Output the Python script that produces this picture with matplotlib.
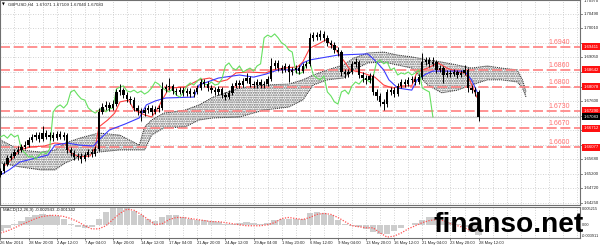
import matplotlib
matplotlib.use('Agg')
import matplotlib.pyplot as plt
import matplotlib.transforms as mtransforms
import matplotlib.font_manager as fm

# ---------------- data ----------------
first_open = 1.6516
closes = [1.6529,1.6552,1.6572,1.6579,1.6592,1.6599,1.6609,1.6615,1.6632,1.6642,
          1.6648,1.6635,1.6655,1.6642,1.6648,1.6638,1.6652,1.6642,1.6648,1.6599,
          1.6589,1.6576,1.6579,1.6569,1.6582,1.6592,1.6586,1.6602,1.6725,1.6741,
          1.6748,1.6738,1.6751,1.6791,1.6797,1.6781,1.6768,1.6764,1.6738,1.6728,
          1.6721,1.6731,1.6738,1.6725,1.6735,1.6738,1.6801,1.6807,1.6811,1.6794,
          1.6791,1.6797,1.6788,1.6794,1.6784,1.6791,1.6804,1.6824,1.6817,1.6804,
          1.6797,1.6791,1.6801,1.6781,1.6774,1.6788,1.6811,1.6821,1.6814,1.6827,
          1.6837,1.6817,1.6814,1.6824,1.6814,1.6817,1.6834,1.6877,1.6887,1.6870,
          1.6864,1.6877,1.6857,1.6864,1.6870,1.6860,1.6877,1.6884,1.6970,1.6979,
          1.6973,1.6983,1.6970,1.6953,1.6946,1.6930,1.6923,1.6857,1.6850,1.6857,
          1.6884,1.6890,1.6847,1.6837,1.6831,1.6844,1.6791,1.6778,1.6758,1.6751,
          1.6791,1.6797,1.6784,1.6811,1.6824,1.6817,1.6831,1.6834,1.6824,1.6840,
          1.6890,1.6897,1.6884,1.6890,1.6864,1.6870,1.6847,1.6854,1.6850,1.6857,
          1.6847,1.6854,1.6864,1.6804,1.6797,1.6791,1.67083]
highs = [1.6539,1.6559,1.6582,1.6589,1.6602,1.6612,1.6619,1.6629,1.6642,1.6652,
         1.6658,1.6658,1.6678,1.6665,1.6658,1.6658,1.6662,1.6662,1.6658,1.6655,
         1.6609,1.6599,1.6589,1.6589,1.6592,1.6602,1.6602,1.6612,1.6738,1.6754,
         1.6761,1.6758,1.6764,1.6801,1.6817,1.6804,1.6791,1.6778,1.6774,1.6748,
         1.6738,1.6741,1.6748,1.6748,1.6744,1.6748,1.6824,1.6817,1.6837,1.6817,
         1.6804,1.6807,1.6807,1.6804,1.6804,1.6801,1.6814,1.6834,1.6834,1.6827,
         1.6814,1.6807,1.6811,1.6807,1.6791,1.6797,1.6821,1.6831,1.6831,1.6837,
         1.6854,1.6844,1.6827,1.6834,1.6834,1.6827,1.6844,1.6903,1.6897,1.6897,
         1.6880,1.6887,1.6884,1.6874,1.6880,1.6880,1.6887,1.6893,1.6986,1.6989,
         1.6989,1.6996,1.6993,1.6979,1.6963,1.6956,1.6940,1.6930,1.6867,1.6867,
         1.6893,1.6903,1.6897,1.6857,1.6847,1.6854,1.6850,1.6801,1.6788,1.6768,
         1.6801,1.6807,1.6807,1.6821,1.6834,1.6834,1.6840,1.6844,1.6844,1.6850,
         1.6920,1.6907,1.6907,1.6907,1.6897,1.6880,1.6877,1.6864,1.6864,1.6867,
         1.6864,1.6864,1.6880,1.6870,1.6814,1.6807,1.6797]
lows = [1.6509,1.6523,1.6546,1.6566,1.6572,1.6586,1.6592,1.6602,1.6609,1.6625,
        1.6632,1.6625,1.6629,1.6635,1.6632,1.6629,1.6632,1.6635,1.6632,1.6589,
        1.6579,1.6566,1.6566,1.6556,1.6562,1.6576,1.6576,1.6579,1.6595,1.6718,
        1.6731,1.6728,1.6731,1.6744,1.6781,1.6771,1.6758,1.6751,1.6728,1.6715,
        1.6695,1.6711,1.6721,1.6715,1.6718,1.6725,1.6731,1.6791,1.6797,1.6784,
        1.6781,1.6784,1.6778,1.6778,1.6774,1.6774,1.6784,1.6797,1.6807,1.6794,
        1.6788,1.6781,1.6781,1.6771,1.6764,1.6768,1.6781,1.6804,1.6804,1.6807,
        1.6821,1.6807,1.6804,1.6804,1.6804,1.6804,1.6811,1.6827,1.6867,1.6860,
        1.6854,1.6857,1.6824,1.6847,1.6854,1.6850,1.6854,1.6870,1.6877,1.6960,
        1.6963,1.6963,1.6960,1.6943,1.6936,1.6920,1.6910,1.6844,1.6837,1.6840,
        1.6850,1.6874,1.6837,1.6824,1.6817,1.6821,1.6781,1.6764,1.6744,1.6731,
        1.6741,1.6781,1.6774,1.6778,1.6804,1.6807,1.6811,1.6821,1.6814,1.6817,
        1.6834,1.6880,1.6874,1.6877,1.6854,1.6857,1.6821,1.6840,1.6840,1.6844,
        1.6837,1.6840,1.6847,1.6791,1.6788,1.6778,1.6695]

tenkan_bar = [3,7,11,17,25,31,37,40,45,51,54,56,61,65,68,73,76,82,86,89,92,96,105,113,119,124,
              129,134,141,151,155,161,169,172,176,181,185,189,192,195,199,206,213,218,223,229,
              234,237,243,249,254,260,264,267,271]
tenkan_val = [1.6549,1.6572,1.6599,1.6609,1.6612,1.6622,1.6619,1.6589,1.6576,1.6579,1.6609,1.6675,
              1.6698,1.6721,1.6758,1.6764,1.6731,1.6715,1.6708,1.6731,1.6764,1.6804,1.6807,1.6831,
              1.6837,1.6824,1.6831,1.6854,1.6857,1.6854,1.6864,1.6870,1.6874,1.6890,1.6936,1.6950,
              1.6963,1.6946,1.6920,1.6897,1.6864,1.6854,1.6840,1.6814,1.6804,1.6811,1.6811,1.6857,
              1.6870,1.6887,1.6870,1.6857,1.6854,1.6831,1.6774]
kijun_bar = [0,5,11,20,27,31,38,45,53,56,62,71,79,83,88,94,110,113,124,136,144,151,158,169,172,
             176,186,192,209,214,218,221,226,234,237,242,246,264,268,272]
kijun_val = [1.6516,1.6533,1.6559,1.6572,1.6582,1.6615,1.6622,1.6615,1.6612,1.6632,1.6665,1.6685,
             1.6705,1.6748,1.6761,1.6771,1.6774,1.6814,1.6837,1.6847,1.6840,1.6850,1.6864,1.6864,
             1.6887,1.6897,1.6907,1.6913,1.6917,1.6890,1.6864,1.6831,1.6804,1.6797,1.6831,1.6850,
             1.6860,1.6860,1.6831,1.6781]
cloud_bar = [0,11,23,31,37,45,56,68,79,82,86,93,105,113,121,136,150,164,172,178,186,195,201,209,
             218,226,234,243,251,260,268,277,285,294,297,299]
span_a = [1.6632,1.6599,1.6592,1.6599,1.6622,1.6638,1.6655,1.6648,1.6615,1.6675,1.6698,1.6721,
          1.6731,1.6748,1.6774,1.6804,1.6814,1.6817,1.6831,1.6847,1.6864,1.6880,1.6903,1.6920,
          1.6923,1.6913,1.6907,1.6897,1.6890,1.6880,1.6870,1.6877,1.6870,1.6864,1.6831,1.6791]
span_b = [1.6556,1.6543,1.6533,1.6533,1.6556,1.6576,1.6592,1.6599,1.6599,1.6599,1.6648,1.6672,
          1.6675,1.6698,1.6705,1.6708,1.6731,1.6741,1.6764,1.6814,1.6831,1.6837,1.6864,1.6887,
          1.6890,1.6880,1.6870,1.6814,1.6788,1.6797,1.6814,1.6831,1.6831,1.6824,1.6804,1.6774]

macd_main = [-0.00182,-0.00091,0.00030,0.00122,0.00213,0.00274,0.00304,0.00274,0.00243,0.00182,
             0.00030,-0.00061,-0.00091,-0.00061,0.00182,0.00365,0.00486,0.00515,0.00500,0.00395,
             0.00274,0.00182,0.00122,0.00213,0.00274,0.00274,0.00213,0.00182,0.00152,0.00152,
             0.00122,0.00091,0.00030,0.00030,0.00061,0.00091,0.00061,0.00030,0.00061,0.00152,
             0.00182,0.00182,0.00182,0.00182,0.00334,0.00365,0.00334,0.00274,0.00152,0.00030,
             -0.00030,-0.00061,-0.00122,-0.00213,-0.00274,-0.00274,-0.00182,-0.00091,0.00000,0.00061,
             0.00152,0.00213,0.00213,0.00152,0.00091,0.00030,-0.00061,-0.00213,-0.002943]
macd_signal = [-0.00243,-0.00182,-0.00091,0.0,0.00091,0.00182,0.00243,0.00274,0.00274,0.00243,
               0.00182,0.00091,-0.00030,-0.00122,-0.00122,-0.00030,0.00152,0.00334,0.00456,0.00426,
               0.00304,0.00152,0.0,0.00030,0.00152,0.00213,0.00213,0.00182,0.00152,0.00122,
               0.00091,0.00091,0.00061,0.00030,0.0,-0.00030,-0.00030,-0.00030,0.0,0.00061,
               0.00182,0.00213,0.00182,0.00152,0.00213,0.00304,0.00334,0.00304,0.00213,0.00091,
               -0.00030,-0.00061,-0.00091,-0.00091,-0.00243,-0.00365,-0.00334,-0.00243,-0.00122,-0.00030,
               0.00061,0.00122,0.00152,0.00122,0.00030,-0.00030,-0.00091,-0.00182,-0.001342]

level_prices = [1.69411, 1.68642, 1.68078, 1.67290, 1.66712, 1.66077]
level_text = ["1.6940", "1.6860", "1.6800", "1.6730", "1.6670", "1.6600"]
price_ticks = [1.70970, 1.70490, 1.70010, 1.69530, 1.69050, 1.68570, 1.68090, 1.67600,
               1.67120, 1.66640, 1.66165, 1.65680, 1.65200, 1.64720, 1.64250]
last_price = 1.67083
macd_scale = [0.005215, 0.0, -0.003911]
macd_scale_text = ["0.005215", "0.00", "-0.003911"]
date_labels = ["26 Mar 2014", "28 Mar 20:00", "2 Apr 12:00", "7 Apr 04:00", "9 Apr 20:00",
               "14 Apr 12:00", "17 Apr 04:00", "21 Apr 20:00", "24 Apr 12:00", "29 Apr 04:00",
               "1 May 20:00", "6 May 12:00", "9 May 04:00", "13 May 20:00", "16 May 12:00",
               "21 May 04:00", "23 May 20:00", "28 May 12:00"]
header = "GBPUSD,H4  1.67071 1.67109 1.67040 1.67083"
macd_header = "MACD(12,26,9) -0.002943 -0.001342"


def pick_font(fams, weight='normal'):
    for f in fams:
        try:
            fm.findfont(fm.FontProperties(family=f, weight=weight), fallback_to_default=False)
            return f
        except Exception:
            pass
    return 'DejaVu Sans'


SMALL = pick_font(['Liberation Sans', 'Arial', 'DejaVu Sans'])
MARK = pick_font(['Liberation Sans Narrow', 'DejaVu Sans Condensed', 'Liberation Sans'], 'bold')

# ---------------- layout ----------------
W, H = 600, 248
fig = plt.figure(figsize=(6, 2.48), dpi=100)
fig.patch.set_facecolor('white')
ax = fig.add_axes([0, 1 - 205 / H, 580 / W, 205 / H])
ax2 = fig.add_axes([0, 1 - 238 / H, 580 / W, 31 / H])
XMIN, XMAX = -0.23, 329.7
ax.set_xlim(XMIN, XMAX)
ax2.set_xlim(XMIN, XMAX)
ax.set_ylim(1.64168, 1.70953)
ax2.set_ylim(-0.003911, 0.005215)

grid_kw = dict(color='#c4c4c4', lw=0.6, ls=(0, (1, 2)), zorder=0)
for a in (ax, ax2):
    for b in range(0, 330, 8):
        a.axvline(b, **grid_kw)
    for s in a.spines.values():
        s.set_color('#707070')
        s.set_linewidth(0.8)
    a.tick_params(left=False, right=False, labelleft=False, labelright=False)
for p in price_ticks:
    ax.axhline(p, **grid_kw)
ax.tick_params(bottom=False, labelbottom=False)

# price candles
bars = [2 * i for i in range(len(closes))]
opens = [first_open] + closes[:-1]
ax.vlines(bars, lows, highs, color='black', lw=0.7, zorder=4)
bodies_lo = [min(o, c) for o, c in zip(opens, closes)]
bodies_h = [max(abs(c - o), 0.00004) for o, c in zip(opens, closes)]
ax.bar(bars, bodies_h, bottom=bodies_lo, width=1.3, color='black', lw=0, zorder=4)

# ichimoku
ax.fill_between(cloud_bar, span_a, span_b, facecolor='none', edgecolor='#6e6e6e',
                hatch='.......', linewidth=0, zorder=1)
ax.plot(cloud_bar, span_a, color='#222222', lw=0.7, ls=(0, (1, 1)), zorder=2)
ax.plot(cloud_bar, span_b, color='#222222', lw=0.7, ls=(0, (1, 1)), zorder=2)
ax.plot(tenkan_bar, tenkan_val, color='#ff4040', lw=0.8, zorder=3)
ax.plot(kijun_bar, kijun_val, color='#3a3aff', lw=0.8, zorder=3)
chikou_bar = [b - 26 for b in bars if b >= 26]
chikou_val = [c for b, c in zip(bars, closes) if b >= 26]
ax.plot(chikou_bar, chikou_val, color='#66e060', lw=0.8, zorder=3)

# current price line
ax.axhline(last_price, color='#c8c8c8', lw=0.9, zorder=1)

# horizontal levels
for p, t in zip(level_prices, level_text):
    ax.axhline(p, color='#ff8080', lw=1.2, ls=(0, (6, 2.2)), zorder=2)
    ax.text(324, p + 0.0003, t, color='#ff7070', fontsize=5, ha='right', va='bottom',
            family=SMALL, zorder=5)

# right price labels
trans = mtransforms.blended_transform_factory(ax.transAxes, ax.transData)
boxed = level_prices + [last_price]
for p in price_ticks:
    ax.plot([1.0, 1.004], [p, p], transform=trans, color='#707070', lw=0.6, clip_on=False)
    if min(abs(p - q) for q in boxed) < 0.0021:
        continue  # hidden behind a price box, as in the reference
    yv = min(p, 1.70925)
    ax.text(1.006, yv, f"{p:.5f}", transform=trans, fontsize=3.1, color='#222222',
            family=SMALL, ha='left', va='center', clip_on=False)
for p in level_prices:
    ax.text(1.006, p, f"{p:.5f}", transform=trans, fontsize=3.1, color='white', ha='left',
            va='center', clip_on=False, zorder=6, family=SMALL,
            bbox=dict(boxstyle='square,pad=0.35', fc='#ff1010', ec='none'))
ax.text(1.006, last_price, f"{last_price:.5f}", transform=trans, fontsize=3.1, color='white',
        ha='left', va='center', clip_on=False, zorder=6, family=SMALL,
        bbox=dict(boxstyle='square,pad=0.35', fc='black', ec='none'))

# MACD panel
macd_bar = [4 * k for k in range(len(macd_main))]
ax2.bar(macd_bar, macd_main, width=3.6, color='#cdcdcd', lw=0, zorder=1)
ax2.plot(macd_bar, macd_signal, color='#ff5050', lw=0.9, ls=(0, (1, 1.2)), zorder=2)
trans2 = mtransforms.blended_transform_factory(ax2.transAxes, ax2.transData)
for v, t, va in zip(macd_scale, macd_scale_text, ['top', 'center', 'bottom']):
    ax2.text(1.003, v, t, transform=trans2, fontsize=2.8, color='#222222', ha='left',
             va=va, clip_on=False, family=SMALL)

ax2.set_xticks([16 * k for k in range(len(date_labels))])
ax2.set_xticklabels(date_labels, fontsize=3.0, color='#222222', family=SMALL)
for lbl in ax2.get_xticklabels():
    lbl.set_horizontalalignment('left')
ax2.tick_params(axis='x', length=1.5, width=0.5, pad=1.0, colors='#444444')
for lbl in ax2.get_xticklabels():
    lbl.set_color('#222222')

# header texts
fig.text(2 / W, 1 - 5 / H, "\u25bc", fontsize=2.6, color='black', va='center', ha='left')
fig.text(8 / W, 1 - 5 / H, header, fontsize=3.2, color='#222222', va='center', ha='left',
         family=SMALL)
fig.text(3 / W, 1 - 210 / H, macd_header, fontsize=3.2, color='#222222', va='center',
         ha='left', family=SMALL)

# watermark
wm = fig.text(433 / W, 1 - 232 / H, "finanso.net", fontsize=25, fontweight='bold',
              family=MARK, color='black', va='baseline', ha='left', zorder=10)
fig.canvas.draw()
bb = wm.get_window_extent(renderer=fig.canvas.get_renderer())
wm.set_fontsize(25 * 150.0 / bb.width)

fig.savefig('out.png', dpi=100, facecolor='white')
